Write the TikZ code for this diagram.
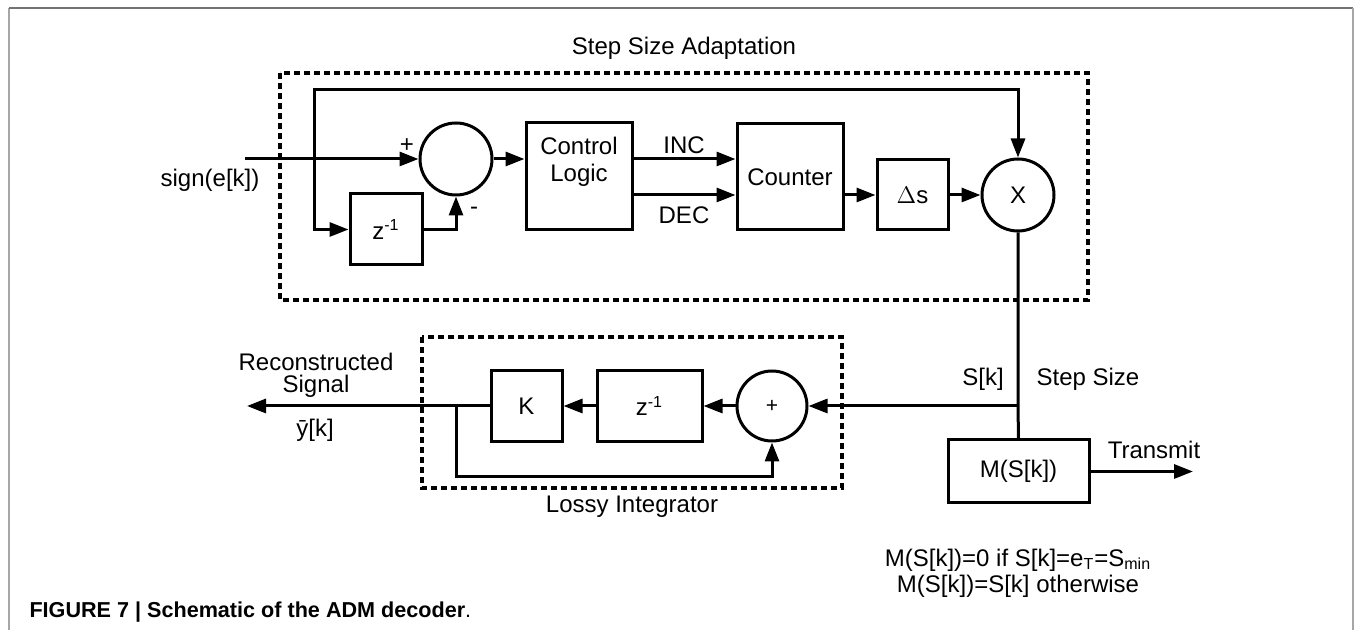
\documentclass[tikz,border=0pt]{standalone}
\usepackage{fontspec}
\setmainfont{Liberation Sans}
\usetikzlibrary{arrows.meta,calc}
\begin{document}
\begin{tikzpicture}[x=0.5pt,y=-0.5pt,
  line width=1.5pt,
  every node/.style={font=\fontsize{12}{14}\selectfont},
  blk/.style={draw, line width=1.5pt, inner sep=0pt},
  circ/.style={draw, circle, line width=1.5pt, minimum size=36pt, inner sep=0pt},
  arr/.style={-{Triangle[length=9.5pt,width=7pt]}},
  dbox/.style={draw, line width=1.6pt, dash pattern=on 3pt off 2pt},
  txt/.style={inner sep=0pt}]
\useasboundingbox (0,0) rectangle (1357,630);
% frame
\draw[line width=0.8pt, black!35] (9,630) -- (9,8);
\draw[line width=0.8pt, black!55] (9,8) -- (1353,8);
\draw[line width=0.8pt, black!35] (1353,8) -- (1353,630);

% dashed groups
\draw[dbox] (280,73) rectangle (1088,300);
\draw[dbox] (422,337) rectangle (842,488);
\node[txt] (tssa) at (684,48) {Step Size Adaptation};
\node[txt] (tli) at (632,507) {Lossy Integrator};

% top blocks
\node[circ] (sum) at (456,159) {};
\node[blk, minimum width=53pt, minimum height=53.5pt] (ctrl) at (579,176.5) {};
\node[txt, align=center, font=\fontsize{12}{13.5}\selectfont] (ctrltxt) at (579,162) {Control\\Logic};
\node[blk, minimum width=53pt, minimum height=53pt] (cnt) at (790,177) {Counter};
\node[blk, minimum width=35.5pt, minimum height=35pt] (ds) at (912.5,195) {$\Delta$s};
\node[circ] (mul) at (1018,195) {X};
\node[blk, minimum width=36pt, minimum height=35.5pt] (z1) at (386,229.5) {z\textsuperscript{-1}};

\coordinate (in) at (245,159);
\coordinate (br) at (314,159);
\coordinate (tl) at (314,90);
\coordinate (inc) at (0,159);
\coordinate (dec) at (0,195);

\node[txt] (sgn) at (210,180) {sign(e[k])};
\node[txt] (pl) at (407,146) {+};
\node[txt] (mi) at (474,211) {-};
\node[txt] (tinc) at (684,145) {INC};
\node[txt] (tdec) at (684,215) {DEC};

\draw[arr] (in) -- (sum.west);
\draw[arr] (br) -- (tl) -- (tl -| mul) -- (mul.north);
\draw[arr] (br) |- (z1.west);
\draw[arr] (z1.east) -| (sum.south);
\draw[arr] (sum.east) -- (sum.east -| ctrl.west);
\draw[arr] (ctrl.east |- inc) -- (cnt.west |- inc);
\draw[arr] (ctrl.east |- dec) -- (cnt.west |- dec);
\draw[arr] (cnt.east |- ds) -- (ds.west);
\draw[arr] (ds.east) -- (mul.west);

% bottom blocks
\node[circ, minimum size=35pt] (add) at (772,406) {\fontsize{10.5}{12}\selectfont +};
\node[blk, minimum width=52.5pt, minimum height=35.5pt] (z2) at (649.5,406) {z\textsuperscript{-1}};
\node[blk, minimum width=35.5pt, minimum height=35.5pt] (kk) at (526.5,406) {K};
\node[blk, minimum width=70.5pt, minimum height=31.5pt] (mm) at (1018.5,471.5) {M(S[k])};

\coordinate (jn) at (1018,406);
\coordinate (out) at (247,406);
\coordinate (fb) at (456,406);
\coordinate (fbb) at (456,477);
\coordinate (tx) at (1193,471.5);

\draw (mul.south) -- (jn) -- (mm.north);
\draw[arr] (jn) -- (add.east);
\draw[arr] (add.west) -- (z2.east);
\draw[arr] (z2.west) -- (kk.east);
\draw[arr] (kk.west) -- (out);
\draw[arr] (fb) -- (fbb) -| (add.south);
\draw[arr] (mm.east) -- (tx);

\node[txt] (trec) at (316,362) {Reconstructed};
\node[txt] (tsig) at (316,386) {Signal};
\node[txt] (ty) at (315,430) {ȳ[k]};
\node[txt] (tsk) at (983,379) {S[k]};
\node[txt] (tss) at (1088,379) {Step Size};
\node[txt] (ttx) at (1154,450) {Transmit};
\node[txt] (tm1) at (1018,560) {M(S[k])=0 if S[k]=e\textsubscript{T}=S\textsubscript{min}};
\node[txt] (tm2) at (1018,586) {M(S[k])=S[k] otherwise};

\node[txt, anchor=west] (cap) at (28,612) {\fontsize{10.8}{12}\selectfont\bfseries FIGURE 7 | Schematic of the ADM decoder\mdseries.};
\end{tikzpicture}
\end{document}
